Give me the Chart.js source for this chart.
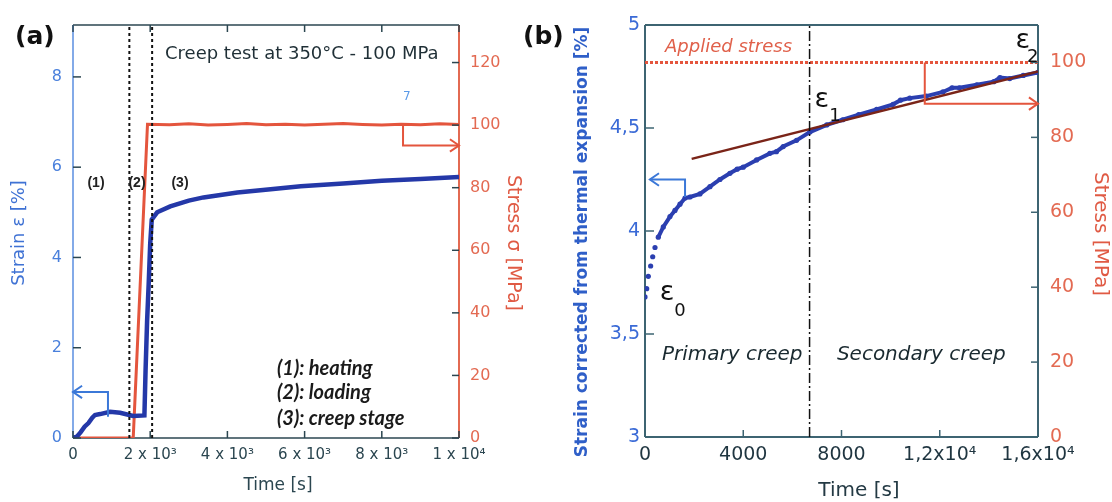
<!DOCTYPE html>
<html>
<head>
<meta charset="utf-8">
<script src="https://cdn.jsdelivr.net/npm/chart.js@4.4.1/dist/chart.umd.min.js"></script>
<style>
  html, body { margin: 0; padding: 0; background: #fff; }
  #wrap { position: relative; width: 1112px; height: 502px; overflow: hidden; }
  canvas { position: absolute; top: 0; }
  #chartA { left: 0; }
  #chartB { left: 520px; }
</style>
</head>
<body>
<div id="wrap">
  <canvas id="chartA" width="556" height="502"></canvas>
  <canvas id="chartB" width="592" height="502"></canvas>
</div>
<script>
// ---- Panel (a): creep test at 350°C - 100 MPa ----
const timeA = [0, 100, 200, 300, 400, 500, 570, 700, 960, 1220, 1560, 1850, 1880, 1920, 1960, 2000, 2040, 2180, 2520, 3000, 3380, 4260, 5120, 5900, 7000, 8000, 9000, 10000];
const strainA = [0, 0.03, 0.13, 0.25, 0.33, 0.45, 0.51, 0.53, 0.58, 0.56, 0.49, 0.5, 1.5, 2.6, 3.4, 4.3, 4.84, 5.0, 5.13, 5.26, 5.33, 5.44, 5.51, 5.58, 5.64, 5.7, 5.74, 5.78];
const stressTimeA = [0, 1560, 1930, 2500, 3000, 3500, 4000, 4500, 5000, 5500, 6000, 6500, 7000, 7500, 8000, 8500, 9000, 9500, 10000];
const stressA = [0, 0, 100.3, 100.1, 100.4, 100.0, 100.2, 100.5, 100.1, 100.3, 100.0, 100.3, 100.5, 100.2, 100.0, 100.3, 100.1, 100.4, 100.2];
const stageBoundsA = [1460, 2050];
const xTicksA = [0, 2000, 4000, 6000, 8000, 10000];
const xLabelsA = ['0', '2 x 10³', '4 x 10³', '6 x 10³', '8 x 10³', '1 x 10⁴'];
const strainTicksA = [0, 2, 4, 6, 8];
const stressTicksA = [0, 20, 40, 60, 80, 100, 120];
const strainMaxA = 9.15;
const stressMaxA = 132;

// ---- Panel (b): strain corrected from thermal expansion ----
const timeB = [0, 68, 134, 230, 313, 407, 541, 745, 1017, 1220, 1424, 1630, 1830, 2237, 2645, 3050, 3458, 3750, 4000, 4543, 5085, 5350, 5627, 6170, 6712, 7400, 8050, 8700, 9430, 10100, 10400, 10780, 11450, 12130, 12500, 12800, 13510, 14200, 14450, 14850, 15400, 16000];
const strainB = [3.68, 3.72, 3.78, 3.83, 3.875, 3.92, 3.97, 4.02, 4.07, 4.1, 4.13, 4.16, 4.165, 4.18, 4.215, 4.25, 4.28, 4.3, 4.31, 4.345, 4.377, 4.385, 4.41, 4.44, 4.48, 4.515, 4.54, 4.565, 4.59, 4.615, 4.635, 4.645, 4.655, 4.675, 4.695, 4.695, 4.71, 4.725, 4.745, 4.74, 4.755, 4.77];
const fitTimeB = [1900, 16000];
const fitStrainB = [4.35, 4.775];
const appliedStressB = 100;
const primaryEndB = 6700;
const xTicksB = [0, 4000, 8000, 12000, 16000];
const xLabelsB = ['0', '4000', '8000', '1,2x10⁴', '1,6x10⁴'];
const strainTicksB = [3, 3.5, 4, 4.5, 5];
const strainLabelsB = ['3', '3,5', '4', '4,5', '5'];
const stressTicksB = [0, 20, 40, 60, 80, 100];

const FONT = "'DejaVu Sans', sans-serif";
const RED = '#e4553d';

function pts(xs, ys) {
    return xs.map((x, i) => ({x: x, y: ys[i]}));
}

// use the tick values from the arrays above
function fixedTicks(values) {
    return scale => { scale.ticks = values.map(v => ({value: v})); };
}

function axisBase(extra) {
    return Object.assign({
        type: 'linear',
        grid: {display: false, drawTicks: false},
        border: {display: false}
    }, extra);
}

/**
 * Frame, inward ticks, arrow heads and text notes
 */
function decorPlugin(cfg) {
    return {
        id: 'decor',
        beforeDatasetsDraw(chart) {
            const ctx = chart.ctx;
            const a = chart.chartArea;
            ctx.save();
            cfg.frame.forEach(f => {
                ctx.strokeStyle = f.color;
                ctx.lineWidth = f.width;
                ctx.beginPath();
                if (f.side === 'left') { ctx.moveTo(a.left, a.top); ctx.lineTo(a.left, a.bottom); }
                if (f.side === 'right') { ctx.moveTo(a.right, a.top); ctx.lineTo(a.right, a.bottom); }
                if (f.side === 'top') { ctx.moveTo(a.left, a.top); ctx.lineTo(a.right, a.top); }
                if (f.side === 'bottom') { ctx.moveTo(a.left, a.bottom); ctx.lineTo(a.right, a.bottom); }
                ctx.stroke();
            });
            ctx.restore();
        },
        afterDatasetsDraw(chart) {
            const ctx = chart.ctx;
            const a = chart.chartArea;
            ctx.save();
            // inward tick marks
            cfg.ticks.forEach(t => {
                const s = chart.scales[t.scale];
                ctx.strokeStyle = t.color;
                ctx.lineWidth = 1.5;
                s.ticks.forEach(tk => {
                    const p = s.getPixelForValue(tk.value);
                    ctx.beginPath();
                    if (t.edge === 'bottom') { ctx.moveTo(p, a.bottom); ctx.lineTo(p, a.bottom - t.len); }
                    if (t.edge === 'top') { ctx.moveTo(p, a.top); ctx.lineTo(p, a.top + t.len); }
                    if (t.edge === 'left') { ctx.moveTo(a.left, p); ctx.lineTo(a.left + t.len, p); }
                    if (t.edge === 'right') { ctx.moveTo(a.right, p); ctx.lineTo(a.right - t.len, p); }
                    ctx.stroke();
                });
            });
            // arrow heads at the end of the arrow datasets
            chart.data.datasets.forEach((ds, i) => {
                if (!ds.arrowHead) return;
                const el = chart.getDatasetMeta(i).data;
                const p1 = el[el.length - 1], p0 = el[el.length - 2];
                const ang = Math.atan2(p1.y - p0.y, p1.x - p0.x);
                ctx.strokeStyle = ds.borderColor;
                ctx.lineWidth = ds.borderWidth;
                ctx.beginPath();
                ctx.moveTo(p1.x - 11 * Math.cos(ang - 0.6), p1.y - 11 * Math.sin(ang - 0.6));
                ctx.lineTo(p1.x, p1.y);
                ctx.lineTo(p1.x - 11 * Math.cos(ang + 0.6), p1.y - 11 * Math.sin(ang + 0.6));
                ctx.stroke();
            });
            // notes placed in data coordinates
            ctx.textBaseline = 'middle';
            cfg.notes.forEach(n => {
                const x = chart.scales.x.getPixelForValue(n.x);
                const y = chart.scales[n.axis || 'y'].getPixelForValue(n.y);
                ctx.font = n.font;
                ctx.fillStyle = n.color;
                ctx.textAlign = n.align || 'center';
                ctx.fillText(n.text, x, y);
            });
            // axis titles and panel label (canvas pixels)
            cfg.titles.forEach(t => {
                ctx.save();
                ctx.translate(t.x, t.y);
                ctx.rotate(t.rot || 0);
                ctx.font = t.font;
                ctx.fillStyle = t.color;
                ctx.textAlign = t.align || 'center';
                ctx.fillText(t.text, 0, 0);
                ctx.restore();
            });
            ctx.restore();
        }
    };
}

const common = {
    responsive: false,
    animation: false,
    devicePixelRatio: 1,
    plugins: {legend: {display: false}, tooltip: {enabled: false}},
    elements: {point: {radius: 0}, line: {tension: 0}}
};

// ---------- chart (a) ----------
new Chart(document.getElementById('chartA'), {
    type: 'line',
    data: {
        datasets: [
            {data: pts([stageBoundsA[0], stageBoundsA[0]], [0, strainMaxA]), borderColor: '#111', borderWidth: 2, borderDash: [3, 3]},
            {data: pts([stageBoundsA[1], stageBoundsA[1]], [0, strainMaxA]), borderColor: '#111', borderWidth: 2, borderDash: [3, 3]},
            {data: pts([906, 906, 0], [0.47, 1.02, 1.02]), borderColor: '#3b78d8', borderWidth: 2, arrowHead: true, clip: false},
            {data: pts([8550, 8550, 10000], [100, 93.5, 93.5]), yAxisID: 'y2', borderColor: RED, borderWidth: 2, arrowHead: true, clip: false},
            {label: 'Strain', data: pts(timeA, strainA), borderColor: '#2438a8', borderWidth: 4.5},
            {label: 'Stress', data: pts(stressTimeA, stressA), yAxisID: 'y2', borderColor: RED, borderWidth: 3}
        ]
    },
    options: Object.assign({}, common, {
        layout: {padding: {top: 25, right: 31, left: 0, bottom: 0}},
        scales: {
            x: axisBase({
                position: 'bottom', min: 0, max: 10000,
                afterBuildTicks: fixedTicks(xTicksA),
                afterFit: s => { s.height = 64; },
                ticks: {padding: 8, color: '#2b4650', font: {family: FONT, size: 15}, maxRotation: 0, autoSkip: false,
                    callback: v => xLabelsA[xTicksA.indexOf(v)]}
            }),
            y: axisBase({
                position: 'left', min: 0, max: strainMaxA,
                afterBuildTicks: fixedTicks(strainTicksA),
                afterFit: s => { s.width = 73; },
                ticks: {padding: 11, color: '#4a80dc', font: {family: FONT, size: 16}}
            }),
            y2: axisBase({
                position: 'right', min: 0, max: stressMaxA,
                afterBuildTicks: fixedTicks(stressTicksA),
                afterFit: s => { s.width = 66; },
                ticks: {padding: 11, color: '#e36a52', font: {family: FONT, size: 16}}
            })
        }
    }),
    plugins: [decorPlugin({
        frame: [
            {side: 'top', color: '#2b4650', width: 1.5},
            {side: 'bottom', color: '#2b4650', width: 1.5},
            {side: 'left', color: '#5a8ee0', width: 1.5},
            {side: 'right', color: '#e36a52', width: 2}
        ],
        ticks: [
            {scale: 'x', edge: 'bottom', len: 7, color: '#2b4650'},
            {scale: 'x', edge: 'top', len: 7, color: '#2b4650'},
            {scale: 'y', edge: 'left', len: 8, color: '#2b4650'},
            {scale: 'y2', edge: 'right', len: 7, color: '#2b4650'}
        ],
        notes: [
            {text: 'Creep test at 350°C - 100 MPa', x: 2383, y: 8.51, align: 'left', font: '18px ' + FONT, color: '#1f2f36'},
            {text: '(1)', x: 596, y: 5.65, font: 'bold 14px "Liberation Sans"', color: '#222'},
            {text: '(2)', x: 1658, y: 5.65, font: 'bold 14px "Liberation Sans"', color: '#222'},
            {text: '(3)', x: 2772, y: 5.65, font: 'bold 14px "Liberation Sans"', color: '#222'},
            {text: '(1): heating', x: 5284, y: 1.53, align: 'left', font: 'italic bold 20px Lato', color: '#1a1a1a'},
            {text: '(2): loading', x: 5284, y: 1.0, align: 'left', font: 'italic bold 20px Lato', color: '#1a1a1a'},
            {text: '(3): creep stage', x: 5284, y: 0.44, align: 'left', font: 'italic bold 20px Lato', color: '#1a1a1a'},
            {text: '7', x: 8651, y: 7.56, font: '12px ' + FONT, color: '#5a9ae8'}
        ],
        titles: [
            {text: '(a)', x: 15, y: 37, align: 'left', font: 'bold 25px ' + FONT, color: '#111'},
            {text: 'Strain ε [%]', x: 19, y: 233, rot: -Math.PI / 2, font: '18px ' + FONT, color: '#3f72d4'},
            {text: 'Stress σ [MPa]', x: 513, y: 243, rot: Math.PI / 2, font: '19px ' + FONT, color: '#e05a44'},
            {text: 'Time [s]', x: 278, y: 486, font: '17px ' + FONT, color: '#2b4650'}
        ]
    })]
});

// ---------- chart (b) ----------
new Chart(document.getElementById('chartB'), {
    type: 'line',
    data: {
        datasets: [
            {data: pts([primaryEndB, primaryEndB], [3, 5]), borderColor: '#111', borderWidth: 1.5, borderDash: [10, 3, 2, 3]},
            {data: pts([1630, 1630, 200], [4.165, 4.25, 4.25]), borderColor: '#3b78d8', borderWidth: 2, arrowHead: true},
            {data: pts([11390, 11390, 16000], [appliedStressB, 89, 89]), yAxisID: 'y2', borderColor: RED, borderWidth: 2, arrowHead: true, clip: false},
            {label: 'Fit', data: pts(fitTimeB, fitStrainB), borderColor: '#7a2418', borderWidth: 2.5},
            {label: 'Strain', data: pts(timeB, strainB), borderColor: '#2b3fb0', borderWidth: 4,
                pointRadius: 2.6, pointBackgroundColor: '#2b3fb0', pointBorderWidth: 0,
                segment: {borderColor: c => c.p0.parsed.x < 450 ? 'rgba(0,0,0,0)' : undefined}},
            {label: 'Applied stress', data: pts([0, 16000], [appliedStressB, appliedStressB]), yAxisID: 'y2', borderColor: RED, borderWidth: 3, borderDash: [3, 2]}
        ]
    },
    options: Object.assign({}, common, {
        layout: {padding: {top: 25, right: 0, left: 0, bottom: 0}},
        scales: {
            x: axisBase({
                position: 'bottom', min: 0, max: 16000,
                afterBuildTicks: fixedTicks(xTicksB),
                afterFit: s => { s.height = 65; },
                ticks: {padding: 7, color: '#1f3540', font: {family: FONT, size: 19}, maxRotation: 0, autoSkip: false,
                    callback: v => xLabelsB[xTicksB.indexOf(v)]}
            }),
            y: axisBase({
                position: 'left', min: 3, max: 5,
                afterBuildTicks: fixedTicks(strainTicksB),
                afterFit: s => { s.width = 125; },
                ticks: {padding: 5, color: '#3a6ad6', font: {family: FONT, size: 19},
                    callback: v => strainLabelsB[strainTicksB.indexOf(v)]}
            }),
            y2: axisBase({
                position: 'right', min: 0, max: 110,
                afterBuildTicks: fixedTicks(stressTicksB),
                afterFit: s => { s.width = 74; },
                ticks: {padding: 12, color: '#e36a52', font: {family: FONT, size: 19}}
            })
        }
    }),
    plugins: [decorPlugin({
        frame: [
            {side: 'top', color: '#3d6472', width: 2},
            {side: 'bottom', color: '#3d6472', width: 2},
            {side: 'left', color: '#3d6472', width: 2},
            {side: 'right', color: '#3d6472', width: 2}
        ],
        ticks: [
            {scale: 'x', edge: 'bottom', len: 7, color: '#3d6472'},
            {scale: 'y', edge: 'left', len: 9, color: '#3d6472'},
            {scale: 'y2', edge: 'right', len: 7, color: '#3d6472'}
        ],
        notes: [
            {text: 'Applied stress', x: 814, y: 4.893, align: 'left', font: 'italic 18px ' + FONT, color: '#e0604a'},
            {text: 'ε', x: 895, y: 3.70, font: '27px ' + FONT, color: '#111'},
            {text: '0', x: 1424, y: 3.61, font: '18px ' + FONT, color: '#111'},
            {text: 'ε', x: 7202, y: 4.636, font: '27px ' + FONT, color: '#111'},
            {text: '1', x: 7731, y: 4.558, font: '18px ' + FONT, color: '#111'},
            {text: 'ε', x: 15381, y: 4.922, font: '27px ' + FONT, color: '#111'},
            {text: '2', x: 15788, y: 4.845, font: '18px ' + FONT, color: '#111'},
            {text: 'Primary creep', x: 692, y: 3.398, align: 'left', font: 'italic 20px ' + FONT, color: '#1a2a30'},
            {text: 'Secondary creep', x: 7812, y: 3.398, align: 'left', font: 'italic 20px ' + FONT, color: '#1a2a30'}
        ],
        titles: [
            {text: '(b)', x: 3, y: 37, align: 'left', font: 'bold 25px ' + FONT, color: '#111'},
            {text: 'Strain corrected from thermal expansion [%]', x: 63, y: 242, rot: -Math.PI / 2, font: 'bold 17px ' + FONT, color: '#2f5fc8'},
            {text: 'Stress [MPa]', x: 580, y: 234, rot: Math.PI / 2, font: '20px ' + FONT, color: '#e05a44'},
            {text: 'Time [s]', x: 339, y: 491, font: '20px ' + FONT, color: '#243a44'}
        ]
    })]
});
</script>
</body>
</html>
